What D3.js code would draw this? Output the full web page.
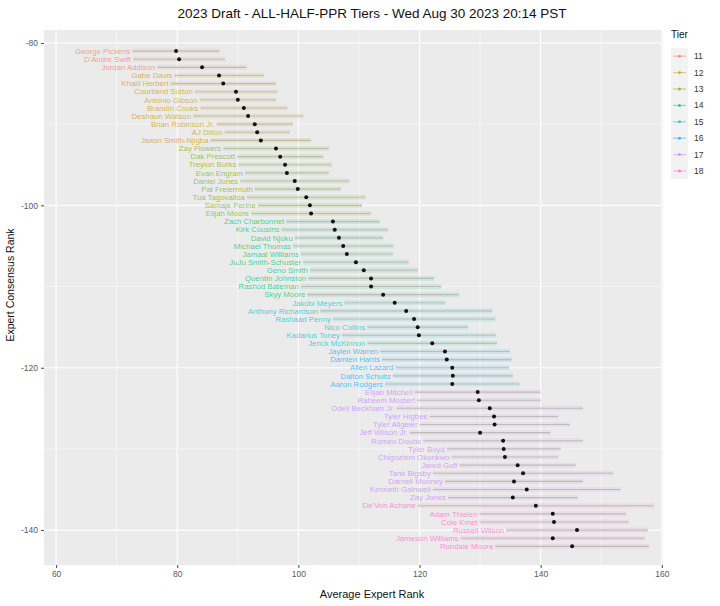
<!DOCTYPE html>
<html>
<head>
<meta charset="utf-8">
<script src="https://cdn.jsdelivr.net/npm/d3@7"></script>
<style>
  body { margin: 0; background: #fff; }
  svg { font-family: "Liberation Sans", Arial, sans-serif; display: block; }
</style>
</head>
<body>
<div id="chart-container"></div>
<script>
// players in ECR order, starting at rank 81
const players = ["George Pickens","D'Andre Swift","Jordan Addison","Gabe Davis","Khalil Herbert",
  "Courtland Sutton","Antonio Gibson","Brandin Cooks","Deshaun Watson","Brian Robinson Jr.",
  "AJ Dillon","Jaxon Smith-Njigba","Zay Flowers","Dak Prescott","Treylon Burks","Evan Engram",
  "Daniel Jones","Pat Freiermuth","Tua Tagovailoa","Samaje Perine","Elijah Moore",
  "Zach Charbonnet","Kirk Cousins","David Njoku","Michael Thomas","Jamaal Williams",
  "JuJu Smith-Schuster","Geno Smith","Quentin Johnston","Rashod Bateman","Skyy Moore",
  "Jakobi Meyers","Anthony Richardson","Rashaad Penny","Nico Collins","Kadarius Toney",
  "Jerick McKinnon","Jaylen Warren","Damien Harris","Allen Lazard","Dalton Schultz",
  "Aaron Rodgers","Elijah Mitchell","Raheem Mostert","Odell Beckham Jr.","Tyler Higbee",
  "Tyler Allgeier","Jeff Wilson Jr.","Romeo Doubs","Tyler Boyd","Chigoziem Okonkwo",
  "Jared Goff","Tank Bigsby","Darnell Mooney","Kenneth Gainwell","Zay Jones",
  "De'Von Achane","Adam Thielen","Cole Kmet","Russell Wilson","Jameson Williams","Rondale Moore"];

const ecr = d3.range(81, 81 + players.length);

const avgRank = [79.8,80.3,84.1,86.9,87.6,89.7,90.0,91.0,91.7,92.8,
  93.2,93.8,96.3,97.0,97.8,98.1,99.4,99.9,101.3,101.9,102.1,
  105.7,106.0,106.7,107.4,108.0,109.5,110.8,112.0,112.0,114.0,
  115.9,117.8,119.1,119.7,119.9,122.1,124.2,124.5,125.4,125.5,
  125.4,129.6,129.8,131.6,132.3,132.4,130.0,133.8,133.9,134.1,
  136.2,137.1,135.6,137.7,135.4,139.2,142.0,142.2,146.0,142.0,145.2];

const stdDev = [7.2,7.6,7.4,7.4,8.7,6.8,6.3,7.2,9.1,6.3,
  5.4,8.3,8.7,7.1,7.7,6.9,9.0,7.1,9.8,8.6,9.9,
  7.7,8.8,7.3,8.3,7.6,8.7,8.9,10.4,11.6,12.5,
  8.3,14.2,13.4,8.3,12.7,10.7,10.7,10.7,9.4,9.9,
  11.1,10.4,10.2,15.4,10.6,12.4,11.6,13.2,9.4,8.8,
  9.6,14.9,11.4,15.5,10.7,19.5,12.1,12.3,11.7,15.2,12.7];

const tierOf = [11,11,11,12,12,12,12,12,12,12,12,12,13,13,13,13,13,13,13,13,13,
  14,14,14,14,14,14,14,14,14,14,15,15,15,15,15,15,16,16,16,16,16,
  17,17,17,17,17,17,17,17,17,17,17,17,17,17,18,18,18,18,18,18];

const tiers = [11,12,13,14,15,16,17,18];
const tierColors = ["#F8766D","#CD9600","#7CAE00","#00BE67","#00BFC4","#00A9FF","#C77CFF","#FF61CC"];

const xTicks = [60,80,100,120,140,160];
const yTicks = [-80,-100,-120,-140];

const width = 720, height = 606;
const margin = {top:30, right:57, bottom:41, left:44};
const innerWidth = width - margin.left - margin.right;
const innerHeight = height - margin.top - margin.bottom;

const data = players.map((p, i) => ({
  name: p, rank: ecr[i], avg: avgRank[i], sd: stdDev[i], tier: tierOf[i]
}));

const svg = d3.select("#chart-container").append("svg")
  .attr("width", width).attr("height", height);

const g = svg.append("g").attr("transform", `translate(${margin.left},${margin.top})`);

const x = d3.scaleLinear().domain([58.0, 160.2]).range([0, innerWidth]);
const y = d3.scaleLinear().domain([-78.4, -144.3]).range([0, innerHeight]);
const color = d3.scaleOrdinal().domain(tiers).range(tierColors);

// panel
g.append("rect").attr("width", innerWidth).attr("height", innerHeight).attr("fill", "#EBEBEB");

// grid
const xMinor = [70,90,110,130,150];
const yMinor = [-90,-110,-130];
g.selectAll(".xminor").data(xMinor).join("line")
  .attr("x1", d => x(d)).attr("x2", d => x(d)).attr("y1", 0).attr("y2", innerHeight)
  .attr("stroke", "#fff").attr("stroke-width", 0.5);
g.selectAll(".yminor").data(yMinor).join("line")
  .attr("y1", d => y(d)).attr("y2", d => y(d)).attr("x1", 0).attr("x2", innerWidth)
  .attr("stroke", "#fff").attr("stroke-width", 0.5);
g.selectAll(".xmajor").data(xTicks).join("line")
  .attr("x1", d => x(d)).attr("x2", d => x(d)).attr("y1", 0).attr("y2", innerHeight)
  .attr("stroke", "#fff").attr("stroke-width", 1.1);
g.selectAll(".ymajor").data(yTicks).join("line")
  .attr("y1", d => y(d)).attr("y2", d => y(d)).attr("x1", 0).attr("x2", innerWidth)
  .attr("stroke", "#fff").attr("stroke-width", 1.1);

// pale coloured band behind each row
g.selectAll(".band").data(data).join("line")
  .attr("x1", d => x(d.avg - d.sd)).attr("x2", d => x(d.avg + d.sd))
  .attr("y1", d => y(-d.rank)).attr("y2", d => y(-d.rank))
  .attr("stroke", d => color(d.tier)).attr("stroke-opacity", 0.12).attr("stroke-width", 5);

// error bars
g.selectAll(".bar").data(data).join("line")
  .attr("x1", d => x(d.avg - d.sd)).attr("x2", d => x(d.avg + d.sd))
  .attr("y1", d => y(-d.rank)).attr("y2", d => y(-d.rank))
  .attr("stroke", "#bdbdb6").attr("stroke-width", 1.1);

// labels
g.selectAll(".lbl").data(data).join("text")
  .attr("x", d => x(d.avg - d.sd) - 2)
  .attr("y", d => y(-d.rank))
  .attr("dy", "0.35em")
  .attr("text-anchor", "end")
  .attr("font-size", "7.8px")
  .attr("fill", d => color(d.tier))
  .attr("fill-opacity", 0.7)
  .text(d => d.name);

// points
g.selectAll(".pt").data(data).join("circle")
  .attr("cx", d => x(d.avg)).attr("cy", d => y(-d.rank))
  .attr("r", 2).attr("fill", "#111");

// axes
const xAxis = g.append("g").attr("transform", `translate(0,${innerHeight})`)
  .call(d3.axisBottom(x).tickValues(xTicks).tickSize(3).tickPadding(3));
const yAxis = g.append("g")
  .call(d3.axisLeft(y).tickValues(yTicks).tickFormat(d => String(d)).tickSize(3).tickPadding(3));
[xAxis, yAxis].forEach(a => {
  a.select(".domain").remove();
  a.selectAll(".tick line").attr("stroke", "#444");
  a.selectAll(".tick text").attr("fill", "#5a5a5a").attr("font-size", "8.5px")
    .attr("font-family", "Liberation Sans, Arial, sans-serif");
});

// titles
svg.append("text")
  .attr("x", 372).attr("y", 18)
  .attr("text-anchor", "middle").attr("font-size", "13.5px").attr("fill", "#111")
  .text("2023 Draft - ALL-HALF-PPR Tiers - Wed Aug 30 2023 20:14 PST");

svg.append("text")
  .attr("x", 372).attr("y", height - 8)
  .attr("text-anchor", "middle").attr("font-size", "11px").attr("fill", "#111")
  .text("Average Expert Rank");

svg.append("text")
  .attr("transform", `translate(14,285) rotate(-90)`)
  .attr("text-anchor", "middle").attr("font-size", "10.5px").attr("fill", "#111")
  .text("Expert Consensus Rank");

// legend
const legend = svg.append("g").attr("transform", `translate(${width - margin.right + 8},28)`);
legend.append("text").attr("x", 0).attr("y", 10).attr("font-size", "10px").attr("fill", "#111").text("Tier");

const item = legend.selectAll(".legend-item").data(tiers).join("g")
  .attr("transform", (d, i) => `translate(0,${20 + i * 16.4})`);
item.append("rect").attr("width", 17).attr("height", 16.4).attr("fill", "#F2F2F2");
item.append("line").attr("x1", 2).attr("x2", 15).attr("y1", 8.2).attr("y2", 8.2)
  .attr("stroke", d => color(d)).attr("stroke-opacity", 0.45).attr("stroke-width", 1.2);
item.append("circle").attr("cx", 8.5).attr("cy", 8.2).attr("r", 1.5)
  .attr("fill", d => color(d)).attr("fill-opacity", 0.7);
item.append("text").attr("x", 23).attr("y", 8.2).attr("dy", "0.35em")
  .attr("font-size", "8.5px").attr("fill", "#333").text(d => d);
</script>
</body>
</html>
